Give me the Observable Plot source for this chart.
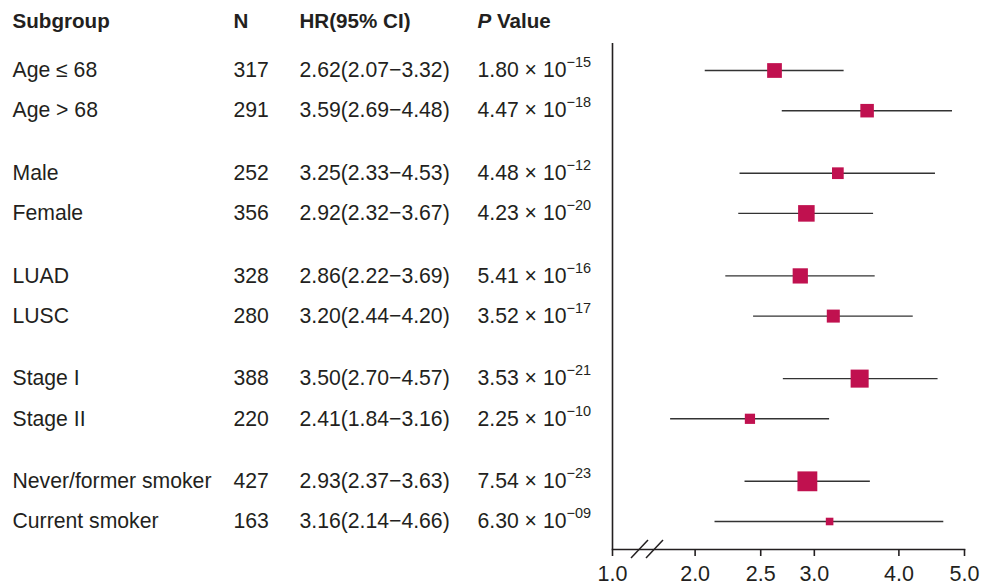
<!DOCTYPE html>
<html>
<head>
<meta charset="utf-8">
<script src="https://cdn.jsdelivr.net/npm/d3@7"></script>
<script src="https://cdn.jsdelivr.net/npm/@observablehq/plot@0.6"></script>
<style>
  html, body { margin: 0; padding: 0; background: #ffffff; }
  #chart { width: 982px; height: 588px; }
</style>
</head>
<body>
<div id="chart"></div>
<script>
// ---------- data ----------
const subgroups = ["Age ≤ 68", "Age > 68", "Male", "Female", "LUAD", "LUSC", "Stage I", "Stage II", "Never/former smoker", "Current smoker"];
const groupOf   = ["Age", "Age", "Sex", "Sex", "Histology", "Histology", "Stage", "Stage", "Smoking", "Smoking"];
const nValues   = [317, 291, 252, 356, 328, 280, 388, 220, 427, 163];
const hrValues  = [2.62, 3.59, 3.25, 2.92, 2.86, 3.20, 3.50, 2.41, 2.93, 3.16];
const ciLow     = [2.07, 2.69, 2.33, 2.32, 2.22, 2.44, 2.70, 1.84, 2.37, 2.14];
const ciHigh    = [3.32, 4.80, 4.53, 3.67, 3.69, 4.20, 4.57, 3.16, 3.63, 4.66]; // as drawn in the figure
const hrCiLabels = ["2.62(2.07−3.32)", "3.59(2.69−4.48)", "3.25(2.33−4.53)", "2.92(2.32−3.67)", "2.86(2.22−3.69)",
                    "3.20(2.44−4.20)", "3.50(2.70−4.57)", "2.41(1.84−3.16)", "2.93(2.37−3.63)", "3.16(2.14−4.66)"];
const pMantissa = ["1.80", "4.47", "4.48", "4.23", "5.41", "3.52", "3.53", "2.25", "7.54", "6.30"];
const pExponent = ["−15", "−18", "−12", "−20", "−16", "−17", "−21", "−10", "−23", "−09"];
const headers   = ["Subgroup", "N", "HR(95% CI)", "P Value"];
const xTickValues = [1.0, 2.0, 2.5, 3.0, 4.0, 5.0];
const xTickLabels = ["1.0", "2.0", "2.5", "3.0", "4.0", "5.0"];
const xMax = 5.0;
const axisBreakFloor = 1.51; // axis is broken: the 1.0 tick sits at this plotted position

// ---------- style ----------
const ink = "#231f20";
const lineInk = "#333333";
const markerFill = "#c0114f";
const fontSize = 21.2;
const groupGap = 0.556;           // extra spacing between groups, in rows
const columnDx = [-600, -379, -313, -135];

// ---------- derived table ----------
const groupNames = [...new Set(groupOf)];
const rows = subgroups.map((s, i) => ({
  label: s,
  n: nValues[i],
  nText: String(nValues[i]),
  hr: hrValues[i],
  lo: ciLow[i],
  hi: ciHigh[i],
  hrText: hrCiLabels[i],
  pText: `${pMantissa[i]} × 10^${pExponent[i]}`,
  pos: i + groupNames.indexOf(groupOf[i]) * groupGap
}));
const maxPos = d3.max(rows, d => d.pos);
const tickPositions = xTickValues.map(v => (v < axisBreakFloor ? axisBreakFloor : v));
const tickLabelMap = new Map(tickPositions.map((p, i) => [p, xTickLabels[i]]));
const headerRows = headers.map((h, i) => ({text: h, dx: columnDx[i]}));

function breakMarks(index, scales, values, dimensions) {
  const x0 = scales.x(axisBreakFloor);
  const y0 = dimensions.height - dimensions.marginBottom;
  const g = d3.create("svg:g");
  for (const off of [27.5, 42.5]) {
    g.append("line")
      .attr("x1", x0 + off - 8.5).attr("y1", y0 + 9)
      .attr("x2", x0 + off + 8.5).attr("y2", y0 - 9)
      .attr("stroke", ink).attr("stroke-width", 1.5);
  }
  return g.node();
}

const textCol = (field, k) => Plot.text(rows, {
  y: "pos", text: field, frameAnchor: "left", dx: columnDx[k], textAnchor: "start",
  fontSize, fill: ink
});

const chart = Plot.plot({
  width: 982,
  height: 588,
  marginLeft: 612,
  marginRight: 18,
  marginTop: 43,
  marginBottom: 39,
  style: {fontFamily: "'Liberation Sans', Arial, Helvetica, sans-serif", color: ink, background: "#ffffff"},
  x: {type: "log", domain: [axisBreakFloor, xMax], axis: null},
  y: {type: "linear", domain: [0, maxPos], reverse: true, insetTop: 27, insetBottom: 28, axis: null},
  r: {type: "linear", domain: [0, d3.max(nValues)], range: [0, 11.2]},
  marks: [
    Plot.ruleX([axisBreakFloor], {stroke: ink, strokeWidth: 1.6}),
    Plot.frame({anchor: "bottom", stroke: ink, strokeWidth: 1.6}),
    Plot.axisX(tickPositions, {
      tickSize: 7, tickPadding: 9, fontSize: 21.5, stroke: ink, strokeWidth: 1.6,
      tickFormat: d => tickLabelMap.get(d), label: null
    }),
    breakMarks,
    Plot.ruleY(rows, {y: "pos", x1: "lo", x2: "hi", stroke: lineInk, strokeWidth: 1.4}),
    Plot.dot(rows, {x: "hr", y: "pos", r: "n", symbol: "square", fill: markerFill}),
    textCol("label", 0),
    textCol("nText", 1),
    textCol("hrText", 2),
    textCol("pText", 3),
    ...headerRows.map(h => Plot.text([h.text], {
      frameAnchor: "top-left", dx: h.dx, dy: -22, textAnchor: "start", lineAnchor: "middle",
      fontSize: 20.6, fontWeight: "bold", fill: ink
    }))
  ]
});

// superscripts and italic P
d3.select(chart).selectAll("text").each(function () {
  const t = this.textContent;
  if (t.includes("^")) {
    const [base, exp] = t.split("^");
    const sel = d3.select(this);
    sel.text(base);
    sel.append("tspan").attr("font-size", 14.5).attr("dy", -10).text(exp);
  } else if (t === "P Value") {
    const sel = d3.select(this);
    sel.text("");
    sel.append("tspan").attr("font-style", "italic").text("P");
    sel.append("tspan").text(" Value");
  }
});

document.getElementById("chart").appendChild(chart);
</script>
</body>
</html>
